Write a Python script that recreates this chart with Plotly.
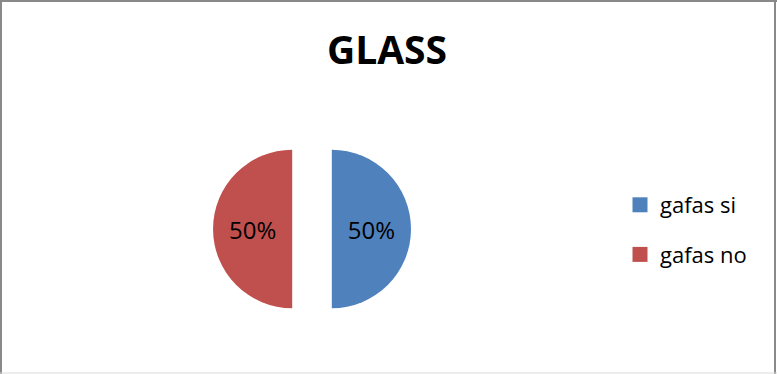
import plotly.graph_objects as go

# Data
labels = ["gafas si", "gafas no"]
values = [50, 50]
colors = ["#4F81BD", "#C0504D"]
title_text = "GLASS"

W, H = 777, 374

fig = go.Figure()
fig.add_trace(go.Pie(
    labels=labels,
    values=values,
    marker=dict(colors=colors, line=dict(width=0)),
    pull=[0.25, 0.25],
    sort=False,
    direction="clockwise",
    rotation=0,
    textinfo="percent",
    textposition="inside",
    insidetextorientation="horizontal",
    textfont=dict(family="Open Sans", size=24, color="#000000"),
    domain=dict(x=[213 / W, 411 / W], y=[1 - 328 / H, 1 - 130 / H]),
    hoverinfo="label+percent",
    showlegend=False,
))

# legend entries (one per slice), spaced like the original
for lab, col in zip(labels, colors):
    fig.add_trace(go.Scatter(
        x=[None], y=[None], mode="markers", name=lab,
        legendgroup=lab, showlegend=True,
        marker=dict(symbol="square", size=15, color=col),
        hoverinfo="skip",
    ))

fig.update_layout(
    width=W,
    height=H,
    margin=dict(l=0, r=0, t=0, b=0),
    paper_bgcolor="white",
    plot_bgcolor="white",
    uniformtext=dict(minsize=24, mode="show"),
    xaxis=dict(visible=False),
    yaxis=dict(visible=False),
    title=dict(
        text="<b>" + title_text + "</b>",
        x=387 / W,
        xanchor="center",
        y=1 - 50 / H,
        yanchor="middle",
        yref="container",
        xref="container",
        font=dict(family="Open Sans", size=39, color="#000000"),
    ),
    legend=dict(
        x=620 / W,
        xanchor="left",
        y=1 - 230 / H,
        yanchor="middle",
        traceorder="grouped",
        tracegroupgap=18,
        font=dict(family="Open Sans", size=22, color="#000000"),
        bgcolor="rgba(0,0,0,0)",
    ),
    shapes=[
        dict(type="line", xref="paper", yref="paper", x0=1 / W, x1=1 / W, y0=0, y1=1,
             line=dict(color="#898989", width=2)),
        dict(type="line", xref="paper", yref="paper", x0=0, x1=1, y0=1 - 1 / H, y1=1 - 1 / H,
             line=dict(color="#898989", width=2)),
        dict(type="line", xref="paper", yref="paper", x0=775 / W, x1=775 / W, y0=0, y1=1,
             line=dict(color="#898989", width=2)),
        dict(type="line", xref="paper", yref="paper", x0=0, x1=1, y0=1 - 373 / H, y1=1 - 373 / H,
             line=dict(color="#D9D9D9", width=1)),
    ],
)

fig.write_html("out.html")
